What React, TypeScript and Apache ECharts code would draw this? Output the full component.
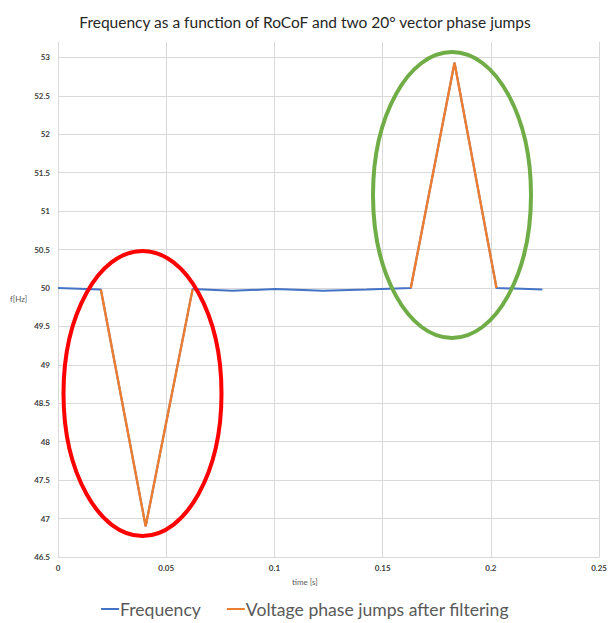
import React, { useEffect, useRef } from "react";
import * as echarts from "echarts";

const chartTitle = "Frequency as a function of RoCoF and two 20° vector phase jumps";
const freqName = "Frequency";
const jumpName = "Voltage phase jumps after filtering";

const freqTime = [0, 0.0198, 0.0405, 0.0622, 0.0806, 0.1005, 0.1225, 0.1425, 0.163, 0.1832, 0.2026, 0.2238];
const freqValue = [50.0, 49.98, 46.9, 49.985, 49.965, 49.985, 49.963, 49.98, 50.0, 52.93, 50.0, 49.98];

const jump1Time = [0.0198, 0.0405, 0.0622];
const jump1Value = [49.98, 46.9, 49.985];
const jump2Time = [0.163, 0.1832, 0.2026];
const jump2Value = [50.0, 52.93, 50.0];

const xTicks = { min: 0, max: 0.25, interval: 0.05 };
const yTicks = { min: 46.5, max: 53.2, interval: 0.5 };

const zip = (t: number[], v: number[]) => t.map((x, i) => [x, v[i]]);

export default function App() {
  const ref = useRef<HTMLDivElement>(null);
  useEffect(() => {
    if (!ref.current) return;
    const chart = echarts.init(ref.current, null, { renderer: "svg" });
    const labelFont = { fontFamily: "Lato, 'Noto Sans', sans-serif", fontSize: 8, fontWeight: "bold" as const, color: "#404040" };
    chart.setOption({
      animation: false,
      backgroundColor: "#ffffff",
      title: {
        text: chartTitle,
        left: "center",
        top: 9,
        textStyle: { fontFamily: "Lato, 'Noto Sans', sans-serif", fontSize: 15.5, fontWeight: "normal", color: "#262626" },
      },
      legend: {
        top: 598,
        left: "center",
        padding: 0,
        itemGap: 26,
        itemWidth: 18,
        itemHeight: 2,
        icon: "rect",
        data: [freqName, jumpName],
        textStyle: { fontFamily: "Lato, 'Noto Sans', sans-serif", fontSize: 17.6, lineHeight: 22, color: "#595959", padding: [0, 0, 0, -4] },
      },
      grid: { left: 58, right: 9, top: 42, bottom: 66, containLabel: false },
      xAxis: {
        type: "value",
        min: xTicks.min,
        max: xTicks.max,
        interval: xTicks.interval,
        axisLine: { show: true, lineStyle: { color: "#d9d9d9" } },
        axisTick: { show: false },
        splitLine: { show: true, lineStyle: { color: "#d9d9d9" } },
        axisLabel: { ...labelFont, margin: 7 },
      },
      yAxis: {
        type: "value",
        min: yTicks.min,
        max: yTicks.max,
        interval: yTicks.interval,
        axisLine: { show: true, lineStyle: { color: "#d9d9d9" } },
        axisTick: { show: false },
        splitLine: { show: true, showMaxLine: false, lineStyle: { color: "#d9d9d9" } },
        axisLabel: {
          ...labelFont,
          margin: 8,
          showMaxLabel: false,
          formatter: (v: number) => (Math.abs(v * 2 - Math.round(v * 2)) < 1e-6 ? String(v) : ""),
        },
      },
      series: [
        {
          name: freqName,
          type: "line",
          data: zip(freqTime, freqValue),
          showSymbol: false,
          symbol: "none",
          lineStyle: { color: "#4472C4", width: 2 },
          itemStyle: { color: "#4472C4" },
          z: 2,
        },
        {
          name: jumpName,
          type: "line",
          data: zip(jump1Time, jump1Value),
          symbol: "none",
          lineStyle: { color: "#ED7D31", width: 2.4 },
          itemStyle: { color: "#ED7D31" },
          z: 3,
        },
        {
          name: jumpName,
          type: "line",
          data: zip(jump2Time, jump2Value),
          symbol: "none",
          lineStyle: { color: "#ED7D31", width: 2.4 },
          itemStyle: { color: "#ED7D31" },
          z: 3,
        },
      ],
      graphic: [
        {
          type: "text",
          left: 10,
          top: 295,
          style: { text: "f[Hz]", font: "8px Lato, 'Noto Sans', sans-serif", fill: "#595959" },
        },
        {
          type: "text",
          left: 292,
          top: 578,
          style: { text: "time [s]", font: "8px Lato, 'Noto Sans', sans-serif", fill: "#595959" },
        },
        {
          type: "ellipse",
          shape: { cx: 142.5, cy: 393.5, rx: 79, ry: 142.5 },
          style: { fill: "none", stroke: "#FF0000", lineWidth: 4 },
          z: 10,
        },
        {
          type: "ellipse",
          shape: { cx: 452, cy: 195, rx: 79, ry: 143 },
          style: { fill: "none", stroke: "#70AD47", lineWidth: 4 },
          z: 10,
        },
      ],
    });
    return () => chart.dispose();
  }, []);
  return <div ref={ref} style={{ position: "fixed", left: 0, top: 0, width: 610, height: 623, background: "#fff" }} />;
}
